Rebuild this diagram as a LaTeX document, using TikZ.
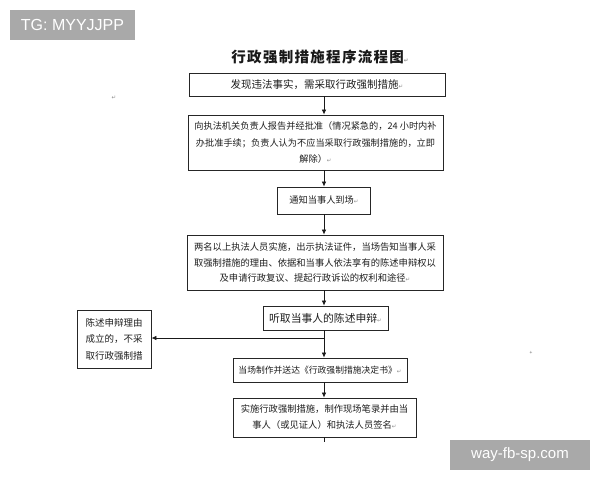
\documentclass[tikz,border=0pt]{standalone}
\usepackage{fontspec}
\setmainfont{Noto Sans CJK SC}
\newfontfamily\wmfont{Liberation Sans}
\newfontfamily\djv{DejaVu Sans}
\newfontfamily\titlefont[LetterSpace=9]{Noto Sans CJK SC}
\usetikzlibrary{arrows.meta}
\definecolor{wmgray}{HTML}{A9A9A9}
\newcommand{\rmk}{{\djv\fontsize{5.5}{6}\selectfont\textcolor{black!45}{↵}}}
\tikzset{
  box/.style={draw=black!85, line width=0.9pt, inner sep=0pt, align=center, text=black!88},
  arr/.style={line width=0.7pt, draw=black!90, -{Latex[length=5pt,width=4.5pt]}},
  wmbox/.style={fill=wmgray, inner sep=0pt, text=white, font=\wmfont\fontsize{16}{16}\selectfont}
}
\begin{document}
\begin{tikzpicture}[x=1pt,y=-1pt]
\useasboundingbox (0,0) rectangle (600,480);
\fill[white] (0,0) rectangle (600,480);
% watermarks
\node[wmbox, minimum width=125pt, minimum height=30pt] (tg) at (72.5,25) {TG: MYYJJPP};
\node[wmbox, minimum width=140pt, minimum height=30pt, font=\wmfont\fontsize{15}{15}\selectfont] (site) at (520,455) {way-fb-sp.com};
% title
\node[font=\titlefont\fontsize{14.5}{15}\selectfont\bfseries, text=black!90] (title) at (320,57) {行政强制措施程序流程图\rmk};
\coordinate (sp) at (324,0);
% boxes
\node[box, minimum width=256pt, minimum height=23pt, font=\fontsize{10.5}{12}\selectfont] (b1) at (317,84.5) {发现违法事实，需采取行政强制措施\rmk};
\node[box, minimum width=255pt, minimum height=55pt, font=\fontsize{9.2}{16.5}\selectfont] (b2) at (315.5,142.5) {向执法机关负责人报告并经批准（情况紧急的，24 小时内补\\办批准手续；负责人认为不应当采取行政强制措施的，立即\\解除）\rmk};
\node[box, minimum width=93pt, minimum height=27pt, font=\fontsize{9.2}{12}\selectfont] (b3) at (324,200.5) {通知当事人到场\rmk};
\node[box, minimum width=256pt, minimum height=55pt, font=\fontsize{9.3}{15.5}\selectfont] (b4) at (315,262.5) {两名以上执法人员实施，出示执法证件，当场告知当事人采\\取强制措施的理由、依据和当事人依法享有的陈述申辩权以\\及申请行政复议、提起行政诉讼的权利和途径\rmk};
\node[box, minimum width=125pt, minimum height=24pt, font=\fontsize{10.8}{12}\selectfont] (b5) at (325.5,318) {听取当事人的陈述申辩\rmk};
\node[box, minimum width=74pt, minimum height=58pt, font=\fontsize{9.5}{16.5}\selectfont] (b6) at (114,339) {陈述申辩理由\\成立的，不采\\取行政强制措};
\node[box, minimum width=174pt, minimum height=24pt, font=\fontsize{8.8}{12}\selectfont] (b7) at (320,370) {当场制作并送达《行政强制措施决定书》\rmk};
\node[box, minimum width=183pt, minimum height=39pt, font=\fontsize{9.3}{16}\selectfont] (b8) at (324.5,417.5) {实施行政强制措施，制作现场笔录并由当\\事人（或见证人）和执法人员签名\rmk};
% stray marks
\node[inner sep=0pt] (m1) at (114,98) {\rmk};
\node[inner sep=0pt, font=\fontsize{5}{5}\selectfont, text=black!60] (m2) at (531,353) {+};
% connectors
\draw[arr] (b1.south -| sp) -- (b2.north -| sp);
\draw[arr] (b2.south -| sp) -- (b3.north -| sp);
\draw[arr] (b3.south -| sp) -- (b4.north -| sp);
\draw[arr] (b4.south -| sp) -- (b5.north -| sp);
\coordinate (j) at (324,338);
\draw[line width=0.7pt, draw=black!90] (b5.south -| sp) -- (j);
\draw[arr] (j) -- (b6.east |- j);
\draw[arr] (j) -- (b7.north -| sp);
\draw[arr] (b7.south -| sp) -- (b8.north -| sp);
\coordinate (tail) at (324,442);
\draw[line width=0.7pt, draw=black!90] (b8.south -| sp) -- (tail);
\end{tikzpicture}
\end{document}
